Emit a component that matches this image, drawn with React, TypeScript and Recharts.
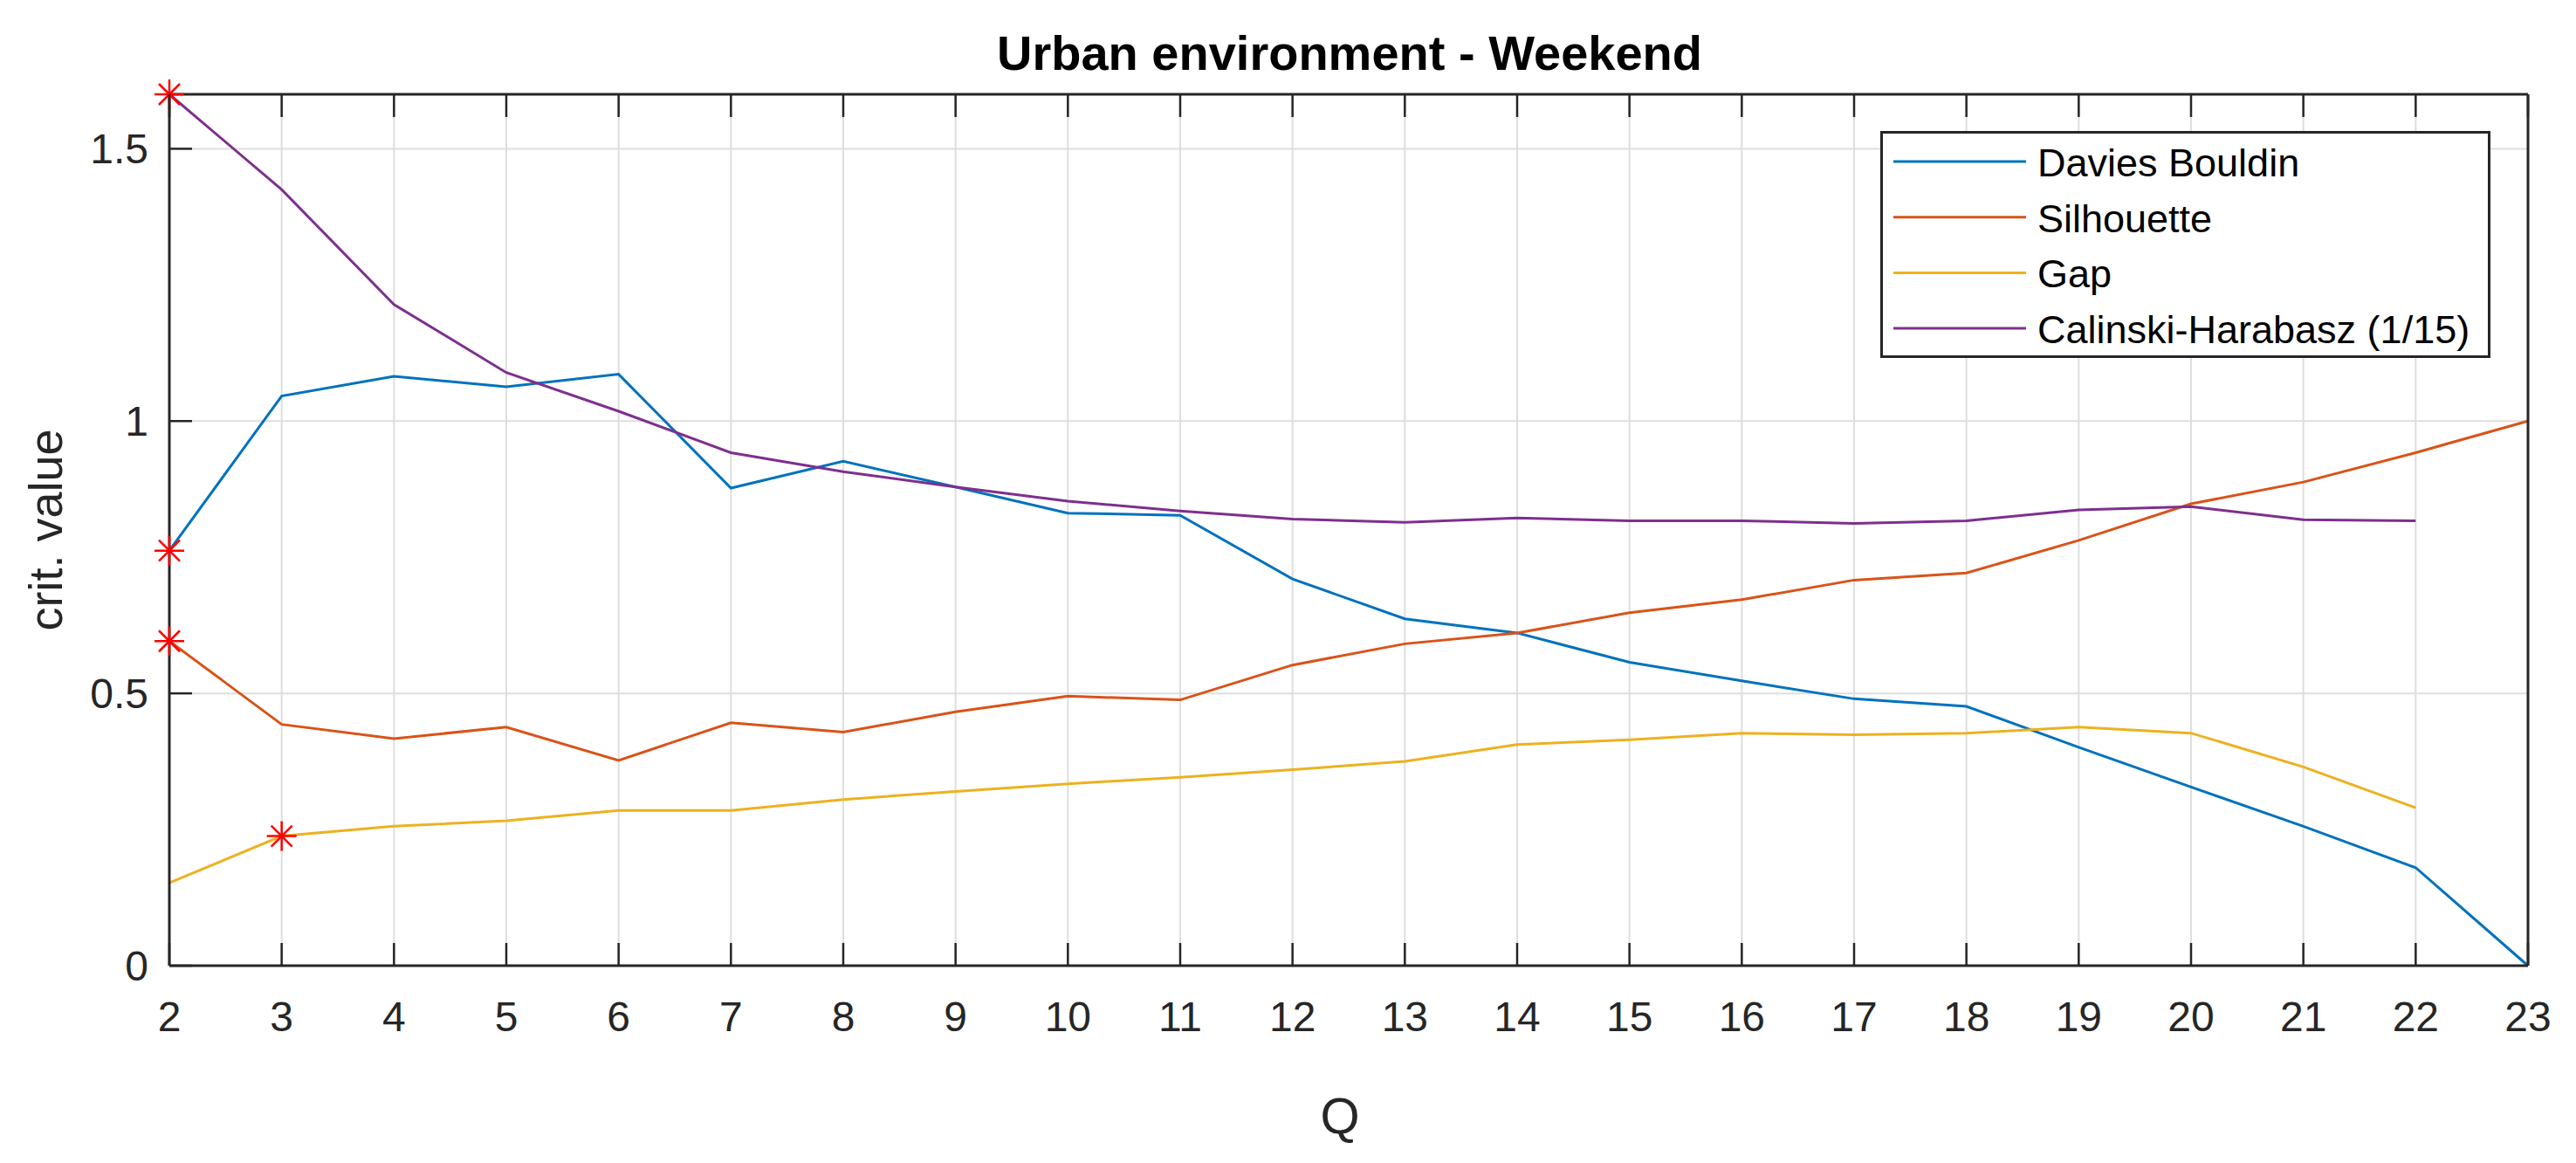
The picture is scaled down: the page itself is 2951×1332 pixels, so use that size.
import {
  ComposedChart,
  Line,
  Scatter,
  CartesianGrid,
  XAxis,
  YAxis,
  Legend,
} from "recharts";

const qValues = [2, 3, 4, 5, 6, 7, 8, 9, 10, 11, 12, 13, 14, 15, 16, 17, 18, 19, 20, 21, 22, 23];

const daviesBouldin = [
  0.762, 1.046, 1.082, 1.063, 1.086, 0.877, 0.926, 0.879, 0.831, 0.827, 0.71,
  0.637, 0.611, 0.557, 0.523, 0.49, 0.476, 0.401, 0.328, 0.256, 0.18, 0,
];
const silhouette = [
  0.596, 0.443, 0.417, 0.438, 0.377, 0.446, 0.429, 0.466, 0.495, 0.488, 0.552,
  0.591, 0.611, 0.648, 0.672, 0.708, 0.721, 0.781, 0.848, 0.888, 0.942, 1.0,
];
const gap = [
  0.152, 0.238, 0.256, 0.266, 0.285, 0.285, 0.305, 0.32, 0.334, 0.346, 0.36,
  0.375, 0.406, 0.415, 0.427, 0.424, 0.427, 0.438, 0.427, 0.365, 0.29, null,
];
const calinski = [
  1.6, 1.425, 1.214, 1.089, 1.018, 0.942, 0.907, 0.879, 0.853, 0.835, 0.82,
  0.814, 0.822, 0.817, 0.817, 0.812, 0.817, 0.837, 0.843, 0.819, 0.817, null,
];

// best Q picked by each criterion (red stars)
const optimalQ = [2, 2, 3, 2];

const yTicks = [0, 0.5, 1, 1.5];

const series = [
  { key: "db", name: "Davies Bouldin", color: "#0072BD", values: daviesBouldin },
  { key: "sil", name: "Silhouette", color: "#D95319", values: silhouette },
  { key: "gap", name: "Gap", color: "#EDB120", values: gap },
  { key: "ch", name: "Calinski-Harabasz (1/15)", color: "#7E2F8E", values: calinski },
];

const data = qValues.map((q, i) => {
  const row: any = { q };
  series.forEach((s) => (row[s.key] = s.values[i]));
  return row;
});

const stars = series.map((s, i) => ({
  q: optimalQ[i],
  v: s.values[qValues.indexOf(optimalQ[i])],
}));

const font = "'Liberation Sans', Arial, Helvetica, sans-serif";
const axisColor = "#262626";
const tickLen = 26;

const BottomTick = (props: any) => {
  const { x, y, payload } = props;
  return (
    <g>
      <line x1={x} y1={y} x2={x} y2={y - tickLen} stroke={axisColor} strokeWidth={2.5} />
      <text x={x} y={y + 75} textAnchor="middle" fontSize={48} fontFamily={font} fill={axisColor}>
        {payload.value}
      </text>
    </g>
  );
};

const TopTick = (props: any) => {
  const { x, y } = props;
  return <line x1={x} y1={y} x2={x} y2={y + tickLen} stroke={axisColor} strokeWidth={2.5} />;
};

const LeftTick = (props: any) => {
  const { x, y, payload } = props;
  return (
    <g>
      <line x1={x} y1={y} x2={x + tickLen} y2={y} stroke={axisColor} strokeWidth={2.5} />
      <text x={x - 24} y={y + 17} textAnchor="end" fontSize={48} fontFamily={font} fill={axisColor}>
        {payload.value}
      </text>
    </g>
  );
};

const RightTick = (props: any) => {
  const { x, y } = props;
  return <line x1={x} y1={y} x2={x - tickLen} y2={y} stroke={axisColor} strokeWidth={2.5} />;
};

const StarMark = (props: any) => {
  const { cx, cy } = props;
  const r = 17;
  const d = 12;
  return (
    <g stroke="#ff0000" strokeWidth={2.5}>
      <line x1={cx - r} y1={cy} x2={cx + r} y2={cy} />
      <line x1={cx} y1={cy - r} x2={cx} y2={cy + r} />
      <line x1={cx - d} y1={cy - d} x2={cx + d} y2={cy + d} />
      <line x1={cx - d} y1={cy + d} x2={cx + d} y2={cy - d} />
    </g>
  );
};

const LegendBox = () => (
  <svg width={699} height={260}>
    <rect x={1.5} y={1.5} width={696} height={257} fill="#fff" stroke={axisColor} strokeWidth={3} />
    {series.map((s, i) => {
      const y = 35 + i * 63.7;
      return (
        <g key={s.key}>
          <line x1={15} y1={y} x2={167} y2={y} stroke={s.color} strokeWidth={3} />
          <text x={180} y={y + 17} fontSize={45} fontFamily={font} fill="#000">
            {s.name}
          </text>
        </g>
      );
    })}
  </svg>
);

const App = () => (
  <div style={{ position: "absolute", left: 0, top: 0, background: "#fff", fontFamily: font }}>
    <ComposedChart
      width={2951}
      height={1332}
      data={data}
      margin={{ top: 107, right: 54, bottom: 0, left: 0 }}
    >
      <CartesianGrid stroke="#dedede" strokeWidth={2} />
      <XAxis
        dataKey="q"
        type="number"
        domain={[2, 23]}
        ticks={qValues}
        interval={0}
        height={226}
        tickSize={0}
        tickMargin={0}
        tickLine={false}
        tick={<BottomTick />}
        axisLine={{ stroke: axisColor, strokeWidth: 3 }}
      />
      <XAxis
        xAxisId="top"
        orientation="top"
        dataKey="q"
        type="number"
        domain={[2, 23]}
        ticks={qValues}
        interval={0}
        height={1}
        tickSize={0}
        tickMargin={0}
        tickLine={false}
        tick={<TopTick />}
        axisLine={{ stroke: axisColor, strokeWidth: 3 }}
      />
      <YAxis
        type="number"
        domain={[0, 1.6]}
        ticks={yTicks}
        interval={0}
        width={194}
        tickSize={0}
        tickMargin={0}
        tickLine={false}
        tick={<LeftTick />}
        axisLine={{ stroke: axisColor, strokeWidth: 3 }}
      />
      <YAxis
        yAxisId="right"
        orientation="right"
        type="number"
        domain={[0, 1.6]}
        ticks={yTicks}
        interval={0}
        width={1}
        tickSize={0}
        tickMargin={0}
        tickLine={false}
        tick={<RightTick />}
        axisLine={{ stroke: axisColor, strokeWidth: 3 }}
      />
      {series.map((s) => (
        <Line
          key={s.key}
          dataKey={s.key}
          name={s.name}
          stroke={s.color}
          strokeWidth={3}
          dot={false}
          activeDot={false}
          type="linear"
          isAnimationActive={false}
        />
      ))}
      <Scatter
        data={stars}
        dataKey="v"
        legendType="none"
        shape={<StarMark />}
        isAnimationActive={false}
      />
      <Legend
        layout="vertical"
        align="center"
        verticalAlign="middle"
        content={<LegendBox />}
        wrapperStyle={{ position: "absolute", left: 2154, top: 150, width: 699, height: 260 }}
      />
      <text x={1546} y={80} textAnchor="middle" fontSize={56} fontWeight="bold" fontFamily={font} fill="#000">
        Urban environment - Weekend
      </text>
      <text
        x={71}
        y={607}
        transform="rotate(-90 71 607)"
        textAnchor="middle"
        fontSize={54}
        fontFamily={font}
        fill={axisColor}
      >
        crit. value
      </text>
      <text x={1535} y={1298} textAnchor="middle" fontSize={58} fontFamily={font} fill={axisColor}>
        Q
      </text>
    </ComposedChart>
  </div>
);

export default App;
